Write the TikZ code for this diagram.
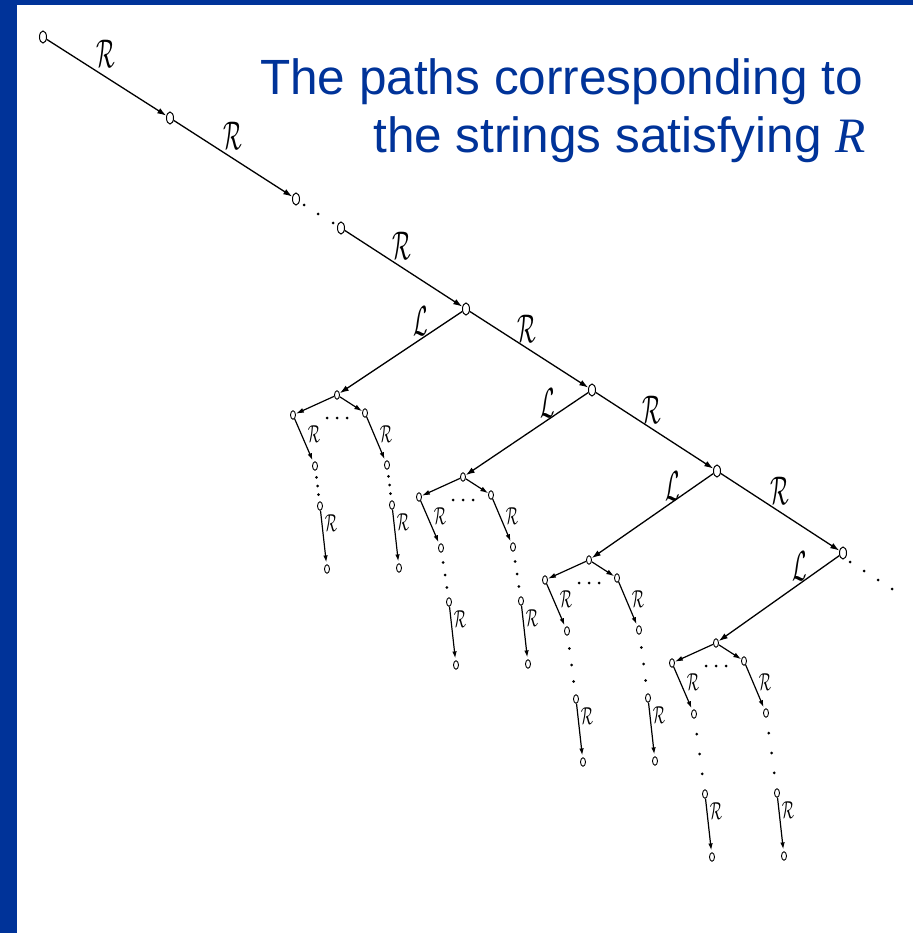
\documentclass[tikz,border=0pt]{standalone}
\usepackage{graphicx}
\usepackage{fontspec}
\setmainfont{Liberation Sans}
\newfontfamily\titleserif{Liberation Serif}
\usetikzlibrary{shapes.geometric,arrows.meta}
\definecolor{frameblue}{RGB}{0,51,153}
\newcommand{\bigR}{\scalebox{2.2}[4.0]{$\mathcal{R}$}}
\newcommand{\bigL}{\scalebox{2.1}[4.2]{$\mathcal{L}$}}
\newcommand{\smallR}{\scalebox{1.45}[2.45]{$\mathcal{R}$}}
% subtree: #1 id, #2 Hx, #3 Hy, #4 gap, #5 dx
\newcommand{\mysubtree}[5]{%
  \node[smallnode] (H#1) at (#2,#3) {};
  \node[smallnode] (LC#1) at (#2-44,#3+20) {};
  \node[smallnode] (RC#1) at (#2+28,#3+18) {};
  \node[smallnode] (LD#1) at (#2-22,#3+71) {};
  \node[smallnode] (RD#1) at (#2+50,#3+70) {};
  \node[smallnode] (LE#1) at (#2-22+#5,#3+71+#4) {};
  \node[smallnode] (RE#1) at (#2+50+#5,#3+70+#4) {};
  \node[smallnode] (LF#1) at (#2-15+#5,#3+134+#4) {};
  \node[smallnode] (RF#1) at (#2+57+#5,#3+133+#4) {};
  \draw[midedge] (H#1) -- (LC#1);
  \draw[midedge] (H#1) -- (RC#1);
  \draw[smalledge] (LC#1) -- (LD#1);
  \draw[smalledge] (RC#1) -- (RD#1);
  \draw[smalledge] (LE#1) -- (LF#1);
  \draw[smalledge] (RE#1) -- (RF#1);
  \path (LD#1) -- (LE#1) node[dotmark,pos=0.22]{} node[dotmark,pos=0.5]{} node[dotmark,pos=0.78]{};
  \path (RD#1) -- (RE#1) node[dotmark,pos=0.22]{} node[dotmark,pos=0.5]{} node[dotmark,pos=0.78]{};
  \node[dotmark] (ea#1) at (#2-10,#3+23) {};
  \node[dotmark] (eb#1) at (#2,#3+23) {};
  \node[dotmark] (ec#1) at (#2+10,#3+23) {};
  \node[lab] (rl#1) at (#2-23,#3+39) {\smallR};
  \node[lab] (rr#1) at (#2+49,#3+39) {\smallR};
  \node[lab] (fl#1) at (#2-11+#5,#3+88+#4) {\smallR};
  \node[lab] (fr#1) at (#2+61+#5,#3+87+#4) {\smallR};
}
\begin{document}
\begin{tikzpicture}[x=1pt,y=-1pt,
  bignode/.style={ellipse,draw,fill=white,line width=1pt,minimum width=7pt,minimum height=12pt,inner sep=0pt},
  smallnode/.style={ellipse,draw,fill=white,line width=0.9pt,minimum width=5pt,minimum height=8.5pt,inner sep=0pt},
  bigedge/.style={line width=1.3pt,-{Latex[length=9pt,width=6pt]}},
  midedge/.style={line width=1.2pt,-{Latex[length=8pt,width=5pt]}},
  smalledge/.style={line width=1.2pt,-{Latex[length=7pt,width=4.5pt]},shorten >=2pt},
  lab/.style={inner sep=0pt},
  dotmark/.style={circle,fill=black,inner sep=0pt,minimum size=3pt},
]
\fill[white] (0,0) rectangle (913,933);
\fill[frameblue] (0,0) rectangle (913,5);
\fill[frameblue] (0,0) rectangle (17,933);
\useasboundingbox (0,0) rectangle (913,933);

% title
\node[anchor=base east,inner sep=0pt,text=frameblue,font=\fontsize{49.5}{58}\selectfont] (title1) at (863,95) {The paths corresponding to};
\node[anchor=base east,inner sep=0pt,text=frameblue,font=\fontsize{49.5}{58}\selectfont] (title2) at (866,153) {the strings satisfying {\titleserif\itshape R}};

% spine
\node[bignode] (n0) at (43,37) {};
\node[bignode] (n1) at (170,118) {};
\node[bignode] (n2) at (296,199) {};
\node[bignode] (n3) at (341,228) {};
\node[bignode] (n4) at (466,309) {};
\node[bignode] (n5) at (592,390) {};
\node[bignode] (n6) at (717,471) {};
\node[bignode] (n7) at (843,553) {};

\draw[bigedge] (n0) -- (n1);
\draw[bigedge] (n1) -- (n2);
\draw[bigedge] (n3) -- (n4);
\draw[bigedge] (n4) -- (n5);
\draw[bigedge] (n5) -- (n6);
\draw[bigedge] (n6) -- (n7);

\node[lab] (r0) at (106,54) {\bigR};
\node[lab] (r1) at (233,136) {\bigR};
\node[lab] (r3) at (402,246) {\bigR};
\node[lab] (r4) at (527,329) {\bigR};
\node[lab] (r5) at (652,410) {\bigR};
\node[lab] (r6) at (780,491) {\bigR};

\node[dotmark] (sd1) at (304,205) {};
\node[dotmark] (sd2) at (318,214) {};
\node[dotmark] (sd3) at (333,223) {};
\node[dotmark] (td1) at (850,562) {};
\node[dotmark] (td2) at (864,571) {};
\node[dotmark] (td3) at (878,580) {};
\node[dotmark] (td4) at (892,589) {};

% subtrees
\mysubtree{1}{337}{395}{40}{5}
\mysubtree{2}{463}{477}{54}{8}
\mysubtree{3}{589}{560}{68}{9}
\mysubtree{4}{716}{643}{80}{11}

\draw[bigedge] (n4) -- (H1);
\draw[bigedge] (n5) -- (H2);
\draw[bigedge] (n6) -- (H3);
\draw[bigedge] (n7) -- (H4);

\node[lab] (l1) at (421,321) {\bigL};
\node[lab] (l2) at (548,403) {\bigL};
\node[lab] (l3) at (673,486) {\bigL};
\node[lab] (l4) at (800,566) {\bigL};
\end{tikzpicture}
\end{document}
